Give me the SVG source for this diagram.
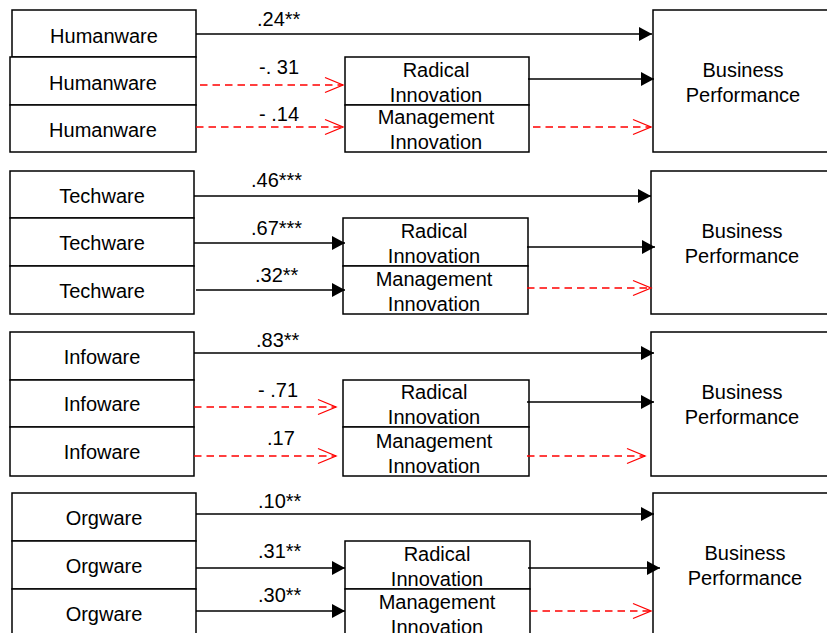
<svg xmlns="http://www.w3.org/2000/svg" width="827" height="633" viewBox="0 0 827 633">
  <style>
    .box { fill: #fff; stroke: #000; stroke-width: 1.5; }
    .t { font-family: "Liberation Sans", Arial, sans-serif; font-size: 20px; fill: #000; }
    .c { text-anchor: middle; }
    .sig { stroke: #000; stroke-width: 1.5; fill: none; marker-end: url(#solid); }
    .ns { stroke: #f00; stroke-width: 1.3; fill: none; stroke-dasharray: 7.5 5; marker-end: url(#open); }
  </style>
  <defs>
    <marker id="solid" markerUnits="userSpaceOnUse" markerWidth="14" markerHeight="15" refX="13" refY="7" orient="auto" overflow="visible">
      <path d="M0,0 L13,7 L0,14 Z" fill="#000"/>
    </marker>
    <marker id="open" markerUnits="userSpaceOnUse" markerWidth="19" markerHeight="16" refX="18" refY="7.5" orient="auto" overflow="visible">
      <path d="M0,0 L18,7.5 L0,15" fill="none" stroke="#f00" stroke-width="1.3"/>
    </marker>
  </defs>
  <rect width="827" height="633" fill="#fff"/>

  <!-- Panel 1: Humanware -->
  <g id="hw1"><rect class="box" x="12" y="10" width="184" height="47"/><text class="t c" x="104" y="43">Humanware</text></g>
  <g id="hw2"><rect class="box" x="10" y="57" width="186" height="48"/><text class="t c" x="103" y="90">Humanware</text></g>
  <g id="hw3"><rect class="box" x="10" y="105" width="186" height="47"/><text class="t c" x="103" y="137">Humanware</text></g>
  <g id="ri1"><rect class="box" x="345" y="57" width="184" height="48"/><text class="t c" x="436" y="77">Radical</text><text class="t c" x="436" y="102">Innovation</text></g>
  <g id="mi1"><rect class="box" x="345" y="105" width="184" height="47"/><text class="t c" x="436" y="124">Management</text><text class="t c" x="436" y="149">Innovation</text></g>
  <g id="bp1"><rect class="box" x="653" y="10" width="180" height="142"/><text class="t c" x="743" y="77">Business</text><text class="t c" x="743" y="102">Performance</text></g>

  <!-- Panel 2: Techware -->
  <g id="tw1"><rect class="box" x="10" y="171" width="184" height="47"/><text class="t c" x="102" y="203">Techware</text></g>
  <g id="tw2"><rect class="box" x="10" y="218" width="184" height="48"/><text class="t c" x="102" y="250">Techware</text></g>
  <g id="tw3"><rect class="box" x="10" y="266" width="184" height="48"/><text class="t c" x="102" y="298">Techware</text></g>
  <g id="ri2"><rect class="box" x="343" y="218" width="185" height="48"/><text class="t c" x="434" y="238">Radical</text><text class="t c" x="434" y="263">Innovation</text></g>
  <g id="mi2"><rect class="box" x="343" y="266" width="185" height="48"/><text class="t c" x="434" y="286">Management</text><text class="t c" x="434" y="311">Innovation</text></g>
  <g id="bp2"><rect class="box" x="651" y="171" width="182" height="143"/><text class="t c" x="742" y="238">Business</text><text class="t c" x="742" y="263">Performance</text></g>

  <!-- Panel 3: Infoware -->
  <g id="iw1"><rect class="box" x="10" y="332" width="184" height="48"/><text class="t c" x="102" y="364">Infoware</text></g>
  <g id="iw2"><rect class="box" x="10" y="380" width="184" height="47"/><text class="t c" x="102" y="411">Infoware</text></g>
  <g id="iw3"><rect class="box" x="10" y="427" width="184" height="49"/><text class="t c" x="102" y="459">Infoware</text></g>
  <g id="ri3"><rect class="box" x="343" y="380" width="186" height="47"/><text class="t c" x="434" y="399">Radical</text><text class="t c" x="434" y="424">Innovation</text></g>
  <g id="mi3"><rect class="box" x="343" y="427" width="186" height="49"/><text class="t c" x="434" y="448">Management</text><text class="t c" x="434" y="473">Innovation</text></g>
  <g id="bp3"><rect class="box" x="651" y="332" width="182" height="144"/><text class="t c" x="742" y="399">Business</text><text class="t c" x="742" y="424">Performance</text></g>

  <!-- Panel 4: Orgware -->
  <g id="ow1"><rect class="box" x="12" y="493" width="184" height="48"/><text class="t c" x="104" y="525">Orgware</text></g>
  <g id="ow2"><rect class="box" x="12" y="541" width="184" height="48"/><text class="t c" x="104" y="573">Orgware</text></g>
  <g id="ow3"><rect class="box" x="12" y="589" width="184" height="50"/><text class="t c" x="104" y="621">Orgware</text></g>
  <g id="ri4"><rect class="box" x="345" y="541" width="185" height="48"/><text class="t c" x="437" y="561">Radical</text><text class="t c" x="437" y="586">Innovation</text></g>
  <g id="mi4"><rect class="box" x="345" y="589" width="185" height="50"/><text class="t c" x="437" y="609">Management</text><text class="t c" x="437" y="634">Innovation</text></g>
  <g id="bp4"><rect class="box" x="653" y="493" width="180" height="146"/><text class="t c" x="745" y="560">Business</text><text class="t c" x="745" y="585">Performance</text></g>

  <!-- Paths with coefficients -->
  <g id="connectors">
    <!-- Humanware -->
    <path class="sig" d="M196,34 H652"/>
    <path class="ns" d="M200,85 H343"/>
    <path class="ns" d="M196,127 H343"/>
    <path class="sig" d="M528,79 H654"/>
    <path class="ns" d="M533,127 H651"/>
    <text class="t" x="257" y="26">.24**</text>
    <text class="t" x="259" y="74">-. 31</text>
    <text class="t" x="259" y="121">- .14</text>

    <!-- Techware -->
    <path class="sig" d="M194,196 H651"/>
    <path class="sig" d="M194,243 H345"/>
    <path class="sig" d="M196,290 H345"/>
    <path class="sig" d="M527,247 H655"/>
    <path class="ns" d="M527,288 H651"/>
    <text class="t" x="251" y="187">.46***</text>
    <text class="t" x="251" y="235">.67***</text>
    <text class="t" x="255" y="282">.32**</text>

    <!-- Infoware -->
    <path class="sig" d="M194,353 H654"/>
    <path class="ns" d="M194,407 H336"/>
    <path class="ns" d="M194,456 H336"/>
    <path class="sig" d="M527,402 H654"/>
    <path class="ns" d="M527,456 H645"/>
    <text class="t" x="256" y="347">.83**</text>
    <text class="t" x="258" y="397">- .71</text>
    <text class="t" x="267" y="445">.17</text>

    <!-- Orgware -->
    <path class="sig" d="M196,514 H654"/>
    <path class="sig" d="M196,568 H345"/>
    <path class="sig" d="M196,611 H345"/>
    <path class="sig" d="M528,568 H660"/>
    <path class="ns" d="M530,611 H651"/>
    <text class="t" x="258" y="508">.10**</text>
    <text class="t" x="258" y="558">.31**</text>
    <text class="t" x="258" y="602">.30**</text>
  </g>
</svg>
